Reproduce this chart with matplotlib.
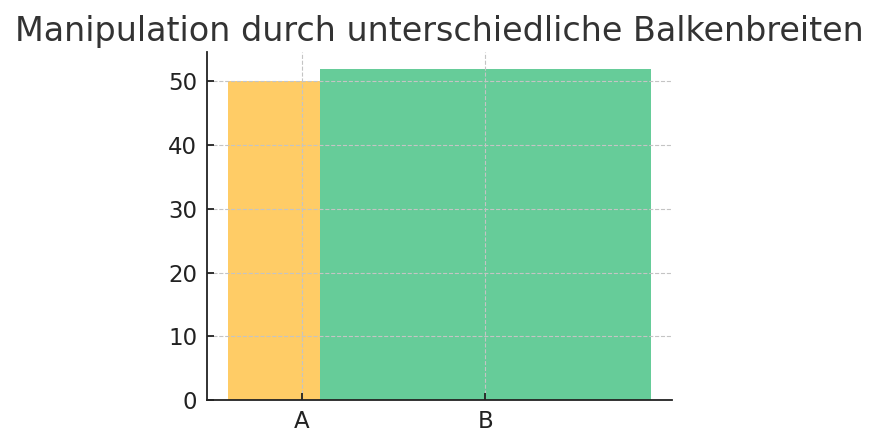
import matplotlib
matplotlib.use("Agg")
import matplotlib.pyplot as plt

categories = ["A", "B"]
values = [50, 52]
widths = [0.8, 1.8]
colors = ["#FFCC66", "#66CC99"]

fig = plt.figure(figsize=(8.78, 4.46), dpi=100)
ax = fig.add_axes([207/878, 46/446, 465/878, 348/446])
ax.bar(categories, values, width=widths, color=colors, zorder=1)
ax.set_title("Manipulation durch unterschiedliche Balkenbreiten", fontsize=24, color="#333333", pad=8)
ax.grid(True, linestyle="--", color="#c4c4c4", linewidth=0.8, zorder=3)
ax.set_axisbelow(False)
for s in ["top", "right"]:
    ax.spines[s].set_visible(False)
for s in ["left", "bottom"]:
    ax.spines[s].set_linewidth(1.3)
    ax.spines[s].set_color("#222222")
    ax.spines[s].set_zorder(4)
ax.tick_params(direction="in", labelsize=16.5, length=5, width=1.3, colors="#222222", pad=7)
fig.savefig("out.png", dpi=100)
